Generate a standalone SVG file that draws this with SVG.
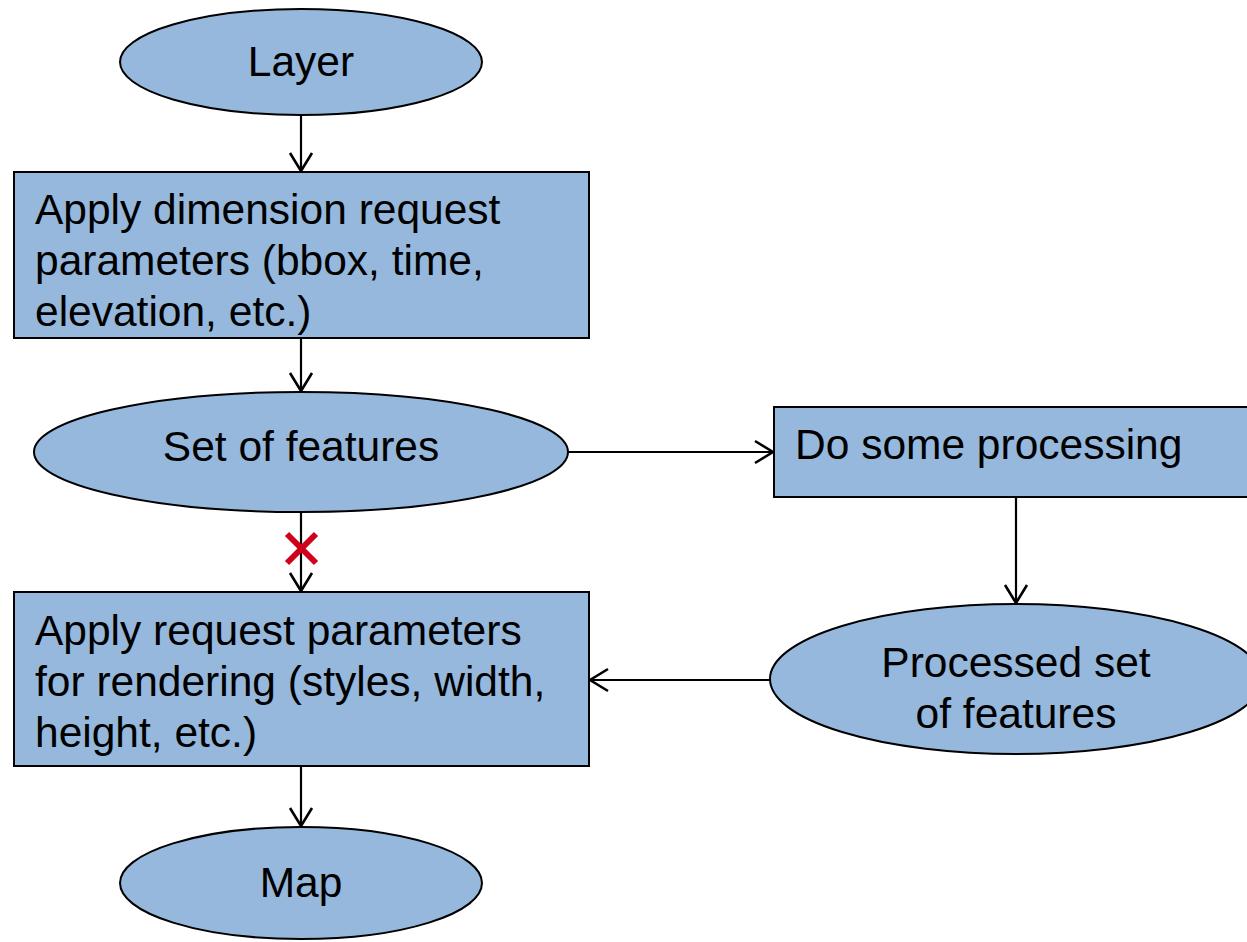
<svg xmlns="http://www.w3.org/2000/svg" width="1247" height="942" viewBox="0 0 1247 942">
<defs>
<style>
.n{fill:#95B8DC;stroke:#000;stroke-width:2}
.t{font-family:"Liberation Sans",Arial,sans-serif;font-size:42.5px;fill:#000}
.c{stroke:#000;stroke-width:2.2;fill:none}
</style>
<marker id="a" viewBox="0 0 22 26" refX="20" refY="13" markerWidth="22" markerHeight="26" markerUnits="userSpaceOnUse" orient="auto">
<path d="M2,2 L20,13 L2,24" fill="none" stroke="#000" stroke-width="2.6"/>
</marker>
</defs>
<rect width="1247" height="942" fill="#fff"/>
<g id="connectors">
<line class="c" x1="301" y1="115" x2="301" y2="171" marker-end="url(#a)"/>
<line class="c" x1="301" y1="338" x2="301" y2="391" marker-end="url(#a)"/>
<line class="c" x1="301" y1="512" x2="301" y2="591" marker-end="url(#a)"/>
<line class="c" x1="301" y1="766" x2="301" y2="826" marker-end="url(#a)"/>
<line class="c" x1="568" y1="452" x2="773" y2="452" marker-end="url(#a)"/>
<line class="c" x1="1016" y1="497" x2="1016" y2="603" marker-end="url(#a)"/>
<line class="c" x1="770" y1="680" x2="590" y2="680" marker-end="url(#a)"/>
<g id="cross" stroke="#D0021B" stroke-width="6">
<line x1="287" y1="534" x2="316" y2="563"/>
<line x1="316" y1="534" x2="287" y2="563"/>
</g>
</g>
<g id="layer">
<ellipse class="n" cx="301" cy="62" rx="181" ry="53"/>
<text class="t" x="301" y="76" text-anchor="middle">Layer</text>
</g>
<g id="apply-dimension">
<rect class="n" x="14" y="172" width="575" height="166"/>
<text class="t" x="35" y="224">Apply dimension request</text>
<text class="t" x="35" y="275">parameters (bbox, time,</text>
<text class="t" x="35" y="326">elevation, etc.)</text>
</g>
<g id="set-of-features">
<ellipse class="n" cx="301" cy="452" rx="267" ry="60"/>
<text class="t" x="301" y="461" text-anchor="middle">Set of features</text>
</g>
<g id="do-processing">
<rect class="n" x="774" y="407" width="480" height="90"/>
<text class="t" x="795" y="459">Do some processing</text>
</g>
<g id="processed">
<ellipse class="n" cx="1016" cy="679" rx="246" ry="75"/>
<text class="t" x="1016" y="677" text-anchor="middle">Processed set</text>
<text class="t" x="1016" y="728" text-anchor="middle">of features</text>
</g>
<g id="apply-rendering">
<rect class="n" x="14" y="592" width="575" height="174"/>
<text class="t" x="35" y="645">Apply request parameters</text>
<text class="t" x="35" y="696">for rendering (styles, width,</text>
<text class="t" x="35" y="747">height, etc.)</text>
</g>
<g id="map">
<ellipse class="n" cx="301" cy="883" rx="181" ry="56"/>
<text class="t" x="301" y="897" text-anchor="middle">Map</text>
</g>
</svg>
